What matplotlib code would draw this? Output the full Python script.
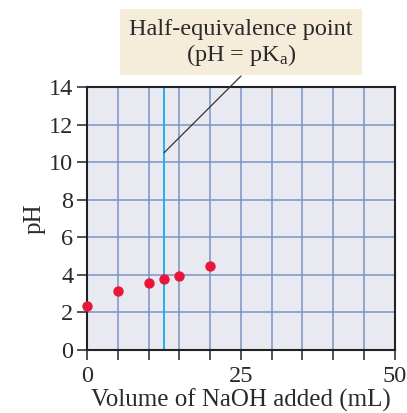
import matplotlib
matplotlib.use("Agg")
import matplotlib.pyplot as plt

volume = [0, 5, 10, 12.5, 15, 20]
ph = [2.35, 3.15, 3.57, 3.75, 3.93, 4.45]
half_eq = 12.5
x_ticks = [0, 5, 10, 15, 20, 25, 30, 35, 40, 45, 50]
x_labels = ["0", "", "", "", "", "25", "", "", "", "", "50"]
y_ticks = [0, 2, 4, 6, 8, 10, 12, 14]

plt.rcParams['font.family'] = ['Liberation Serif', 'DejaVu Serif']
plt.rcParams['mathtext.fontset'] = 'custom'
plt.rcParams['mathtext.rm'] = 'Liberation Serif'
plt.rcParams['mathtext.it'] = 'Liberation Serif:italic'

fig = plt.figure(figsize=(4.07, 4.13), dpi=100)
ax = fig.add_axes([0.214, 0.153, 0.756, 0.636])
ax.set_facecolor('#e9e9f1')
ax.set_xlim(0, 50)
ax.set_ylim(0, 14)
ax.set_xticks(x_ticks)
ax.set_xticklabels(x_labels)
ax.set_yticks(y_ticks)
ax.grid(True, color='#7b94c4', linewidth=1.1)
ax.set_axisbelow(True)
for s in ax.spines.values():
    s.set_linewidth(1.5)
    s.set_color('#222222')
ax.tick_params(axis='both', direction='out', length=7, width=1.2, color='#333333',
               labelsize=17.5, colors='#2a2a2a')
ax.tick_params(axis='x', pad=5)
ax.tick_params(axis='y', pad=3)
ax.axvline(half_eq, color='#1fb0ec', linewidth=1.4, zorder=2)
ax.scatter(volume, ph, s=42, color='#e8173a', zorder=4, clip_on=False)
ax.set_xlabel("Volume of NaOH added (mL)", fontsize=18, color='#2a2a2a', labelpad=0.5)
ax.set_ylabel("pH", fontsize=18, color='#2a2a2a', labelpad=2)

ax.annotate("", xy=(half_eq, 10.5), xytext=(241 / 407, 1 - 76 / 413),
            textcoords='figure fraction',
            arrowprops=dict(arrowstyle='-', color='#333333', lw=0.9,
                            shrinkA=0, shrinkB=0), annotation_clip=False)

fig.patches.append(plt.Rectangle((120 / 407, 1 - 75 / 413), 242 / 407, 66 / 413,
                                 transform=fig.transFigure, facecolor='#f5ecd9',
                                 edgecolor='none', zorder=0))
fig.text(241 / 407, 1 - 30 / 413, "Half-equivalence point", ha='center', va='center',
         fontsize=17.5, color='#2a2a2a')
fig.text(241 / 407, 1 - 55 / 413, r"(pH = pK$_{\mathrm{a}}$)", ha='center', va='center',
         fontsize=17.5, color='#2a2a2a')

fig.savefig("out.png", dpi=100)
